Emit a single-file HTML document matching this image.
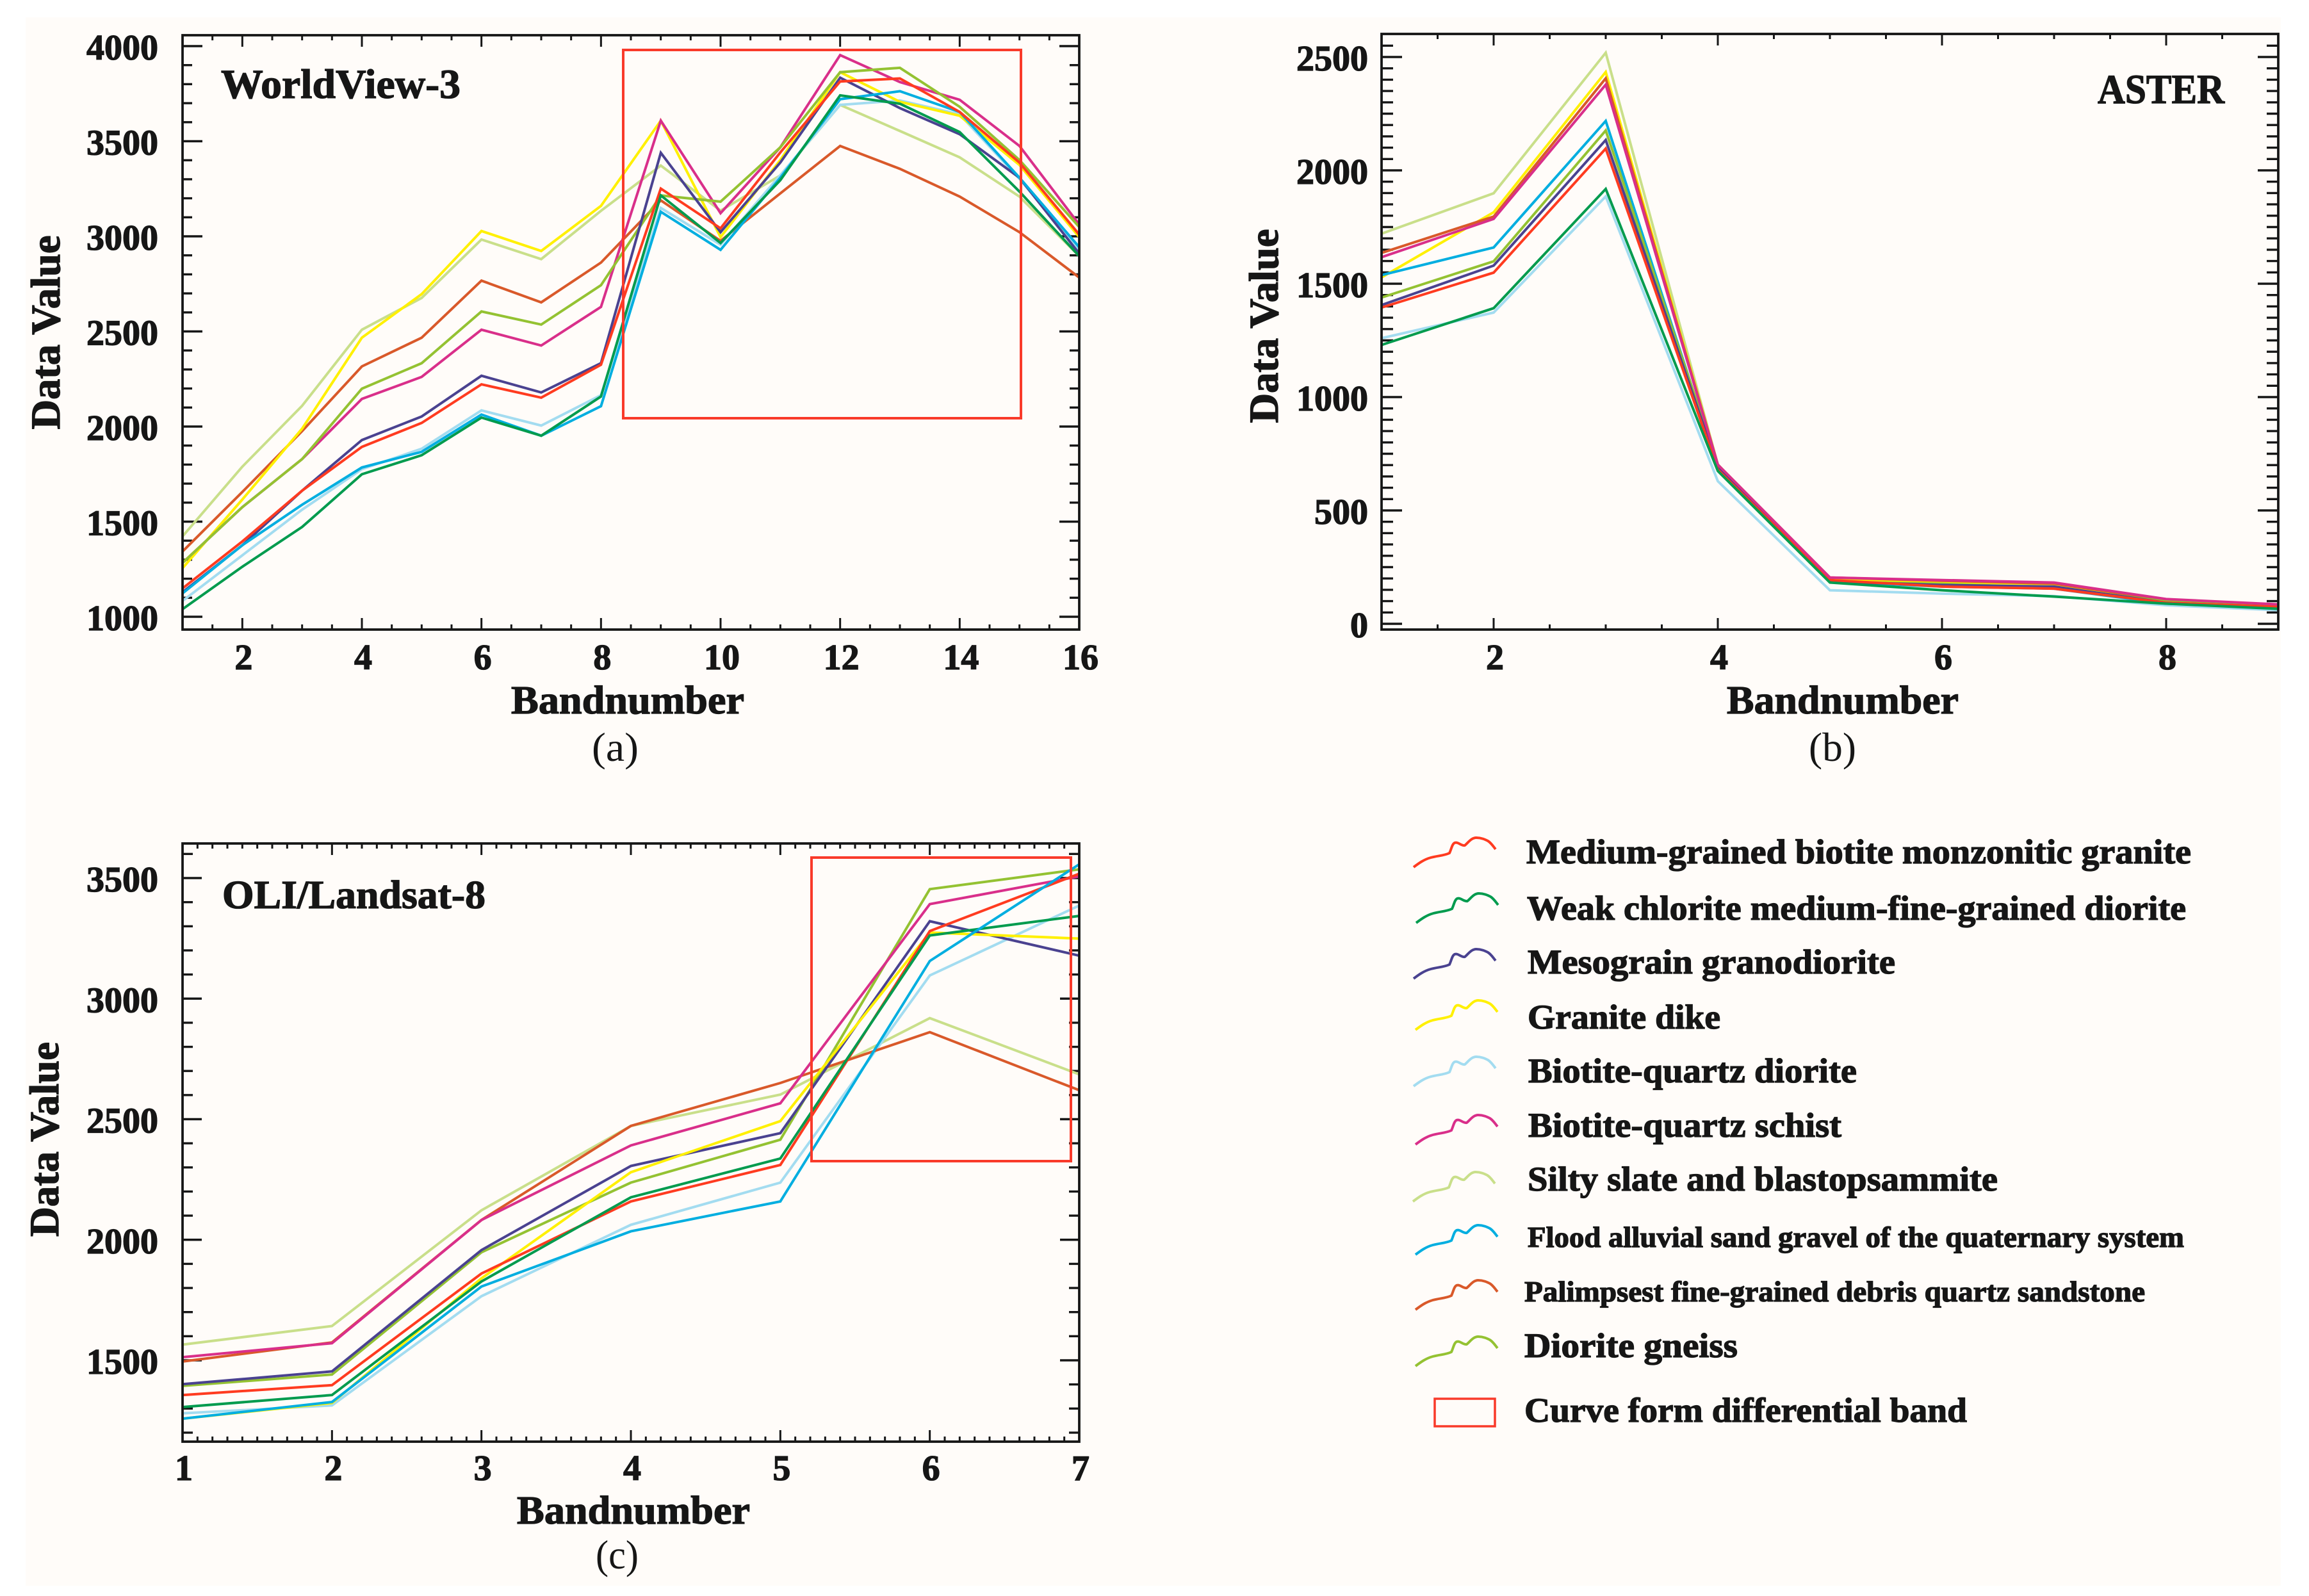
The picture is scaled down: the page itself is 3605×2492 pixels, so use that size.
<!DOCTYPE html>
<html lang="en">
<head>
<meta charset="utf-8">
<title>Spectral curves of lithologies: WorldView-3, ASTER and OLI/Landsat-8</title>
<style>
html,body{margin:0;padding:0;background:#fff;}
svg{display:block;}
text{font-family:"Liberation Serif","DejaVu Serif",serif;fill:#161616;}
.b{font-weight:700;stroke:#161616;stroke-width:1.3px;}
</style>
</head>
<body>
<svg id="fig" xmlns="http://www.w3.org/2000/svg" width="3605" height="2492" viewBox="0 0 3605 2492">
  <rect x="40" y="27" width="3521" height="2449" fill="#fffcf9"/>

  <g id="panel-a"></g>
  <g id="panel-b"></g>
  <g id="panel-c"></g>

  <text class="b" x="345" y="153" font-size="65" textLength="374" lengthAdjust="spacingAndGlyphs">WorldView-3</text>
  <text class="b" x="3275" y="161" font-size="65" textLength="198" lengthAdjust="spacingAndGlyphs">ASTER</text>
  <text class="b" x="347" y="1418" font-size="62" textLength="411" lengthAdjust="spacingAndGlyphs">OLI/Landsat-8</text>

  <text class="b" transform="translate(93,519) rotate(-90)" text-anchor="middle" font-size="65" textLength="303" lengthAdjust="spacingAndGlyphs">Data Value</text>
  <text class="b" transform="translate(1995,509) rotate(-90)" text-anchor="middle" font-size="65" textLength="303" lengthAdjust="spacingAndGlyphs">Data Value</text>
  <text class="b" transform="translate(91,1779) rotate(-90)" text-anchor="middle" font-size="65" textLength="304" lengthAdjust="spacingAndGlyphs">Data Value</text>

  <text class="b" x="798" y="1114" font-size="62" textLength="364" lengthAdjust="spacingAndGlyphs">Bandnumber</text>
  <text class="b" x="2696" y="1114" font-size="62" textLength="362" lengthAdjust="spacingAndGlyphs">Bandnumber</text>
  <text class="b" x="807" y="2379" font-size="62" textLength="364" lengthAdjust="spacingAndGlyphs">Bandnumber</text>

  <text x="924" y="1188" font-size="64" textLength="73" lengthAdjust="spacingAndGlyphs">(a)</text>
  <text x="2824" y="1188" font-size="64" textLength="74" lengthAdjust="spacingAndGlyphs">(b)</text>
  <text x="930" y="2449" font-size="64" textLength="67" lengthAdjust="spacingAndGlyphs">(c)</text>

  <g id="legend">
    <text class="b" x="2383" y="1348" font-size="54" textLength="1038" lengthAdjust="spacingAndGlyphs">Medium-grained biotite monzonitic granite</text>
    <text class="b" x="2384" y="1436" font-size="54" textLength="1029" lengthAdjust="spacingAndGlyphs">Weak chlorite medium-fine-grained diorite</text>
    <text class="b" x="2385" y="1520" font-size="54" textLength="574" lengthAdjust="spacingAndGlyphs">Mesograin granodiorite</text>
    <text class="b" x="2385" y="1606" font-size="54" textLength="301" lengthAdjust="spacingAndGlyphs">Granite dike</text>
    <text class="b" x="2386" y="1690" font-size="54" textLength="513" lengthAdjust="spacingAndGlyphs">Biotite-quartz diorite</text>
    <text class="b" x="2386" y="1775" font-size="54" textLength="489" lengthAdjust="spacingAndGlyphs">Biotite-quartz schist</text>
    <text class="b" x="2385" y="1859" font-size="54" textLength="734" lengthAdjust="spacingAndGlyphs">Silty slate and blastopsammite</text>
    <text class="b" x="2385" y="1947" font-size="46" textLength="1025" lengthAdjust="spacingAndGlyphs">Flood alluvial sand gravel of the quaternary system</text>
    <text class="b" x="2380" y="2032" font-size="46" textLength="969" lengthAdjust="spacingAndGlyphs">Palimpsest fine-grained debris quartz sandstone</text>
    <text class="b" x="2380" y="2119" font-size="54" textLength="333" lengthAdjust="spacingAndGlyphs">Diorite gneiss</text>
    <rect x="2240" y="2184" width="94" height="43" fill="none" stroke="#f93a2a" stroke-width="3.5"/>
    <text class="b" x="2380" y="2220" font-size="54" textLength="691" lengthAdjust="spacingAndGlyphs">Curve form differential band</text>
  </g>
</svg>

<script>
// ---- colours, one per lithology ----
const colorGranite = '#ff3b20';
const colorChlorite = '#009b4e';
const colorMesograin = '#4a4290';
const colorDike = '#fff000';
const colorBioDiorite = '#a3dcf0';
const colorSchist = '#d92f8a';
const colorSlate = '#c9df8a';
const colorFlood = '#00aee0';
const colorPalimpsest = '#d9592a';
const colorGneiss = '#94c232';

// ---- WorldView-3 data (bands 1-16) ----
const wvBands = [1,2,3,4,5,6,7,8,9,10,11,12,13,14,15,16];
const wvSlate = [1423,1789,2109,2509,2676,2983,2880,3134,3372,3135,3320,3691,3554,3415,3209,2896];
const wvPalimpsest = [1343,1656,1976,2316,2467,2767,2653,2862,3189,2976,3226,3475,3355,3209,3022,2783];
const wvBioDiorite = [1083,1323,1563,1776,1883,2085,2005,2165,3149,2956,3322,3691,3714,3641,3302,2929];
const wvDike = [1256,1616,1989,2467,2696,3028,2923,3160,3608,2996,3401,3863,3707,3634,3375,2996];
const wvSchist = [1283,1576,1829,2145,2261,2509,2426,2629,3608,3122,3468,3953,3811,3718,3475,3062];
const wvGneiss = [1283,1576,1829,2199,2333,2605,2536,2743,3215,3182,3468,3863,3886,3681,3401,3049];
const wvMesograin = [1129,1376,1663,1929,2053,2267,2179,2333,3439,3022,3388,3834,3674,3537,3308,2909];
const wvFlood = [1123,1376,1589,1785,1867,2063,1952,2107,3129,2929,3308,3721,3763,3654,3308,2943];
const wvGranite = [1149,1396,1663,1893,2019,2222,2152,2325,3251,3042,3441,3814,3830,3654,3388,3009];
const wvChlorite = [1040,1263,1472,1749,1849,2047,1952,2158,3215,2965,3295,3741,3697,3548,3235,2896];
const wvXTickLabels = ['2','4','6','8','10','12','14','16'];
const wvYTickLabels = ['1000','1500','2000','2500','3000','3500','4000'];

// ---- ASTER data (bands 1-9) ----
const asBands = [1,2,3,4,5,6,7,8,9];
const asSlate = [1721,1899,2519,702,193,182,175,100,75];
const asPalimpsest = [1636,1796,2406,702,204,190,177,105,82];
const asBioDiorite = [1260,1373,1885,629,148,133,122,82,60];
const asDike = [1528,1815,2434,702,199,185,175,100,75];
const asSchist = [1617,1786,2378,702,204,193,182,109,86];
const asGneiss = [1439,1599,2176,702,186,176,160,98,75];
const asMesograin = [1406,1580,2134,691,186,171,164,93,75];
const asFlood = [1538,1660,2218,691,186,164,155,89,75];
const asGranite = [1395,1549,2096,680,193,164,155,93,75];
const asChlorite = [1230,1392,1918,674,182,148,120,89,66];
const asXTickLabels = ['2','4','6','8'];
const asYTickLabels = ['0','500','1000','1500','2000','2500'];

// ---- OLI/Landsat-8 data (bands 1-7) ----
const olBands = [1,2,3,4,5,6,7];
const olSlate = [1565,1642,2122,2472,2602,2919,2686];
const olPalimpsest = [1495,1574,2082,2472,2650,2861,2620];
const olBioDiorite = [1280,1313,1766,2062,2237,3096,3386];
const olDike = [1258,1323,1840,2280,2492,3274,3249];
const olSchist = [1513,1571,2082,2391,2566,3392,3507];
const olGneiss = [1394,1441,1948,2237,2415,3454,3536];
const olMesograin = [1401,1454,1957,2306,2442,3321,3178];
const olGranite = [1356,1397,1860,2159,2310,3280,3518];
const olChlorite = [1306,1356,1827,2176,2337,3262,3343];
const olFlood = [1258,1327,1806,2035,2159,3156,3557];
const olXTickLabels = ['1','2','3','4','5','6','7'];
const olYTickLabels = ['1500','2000','2500','3000','3500'];

const SVGNS = 'http://www.w3.org/2000/svg';

function makeScale(d0, d1, r0, r1) {
  return function (v) { return r0 + (v - d0) * (r1 - r0) / (d1 - d0); };
}

function addLine(parent, x1, y1, x2, y2, w, color) {
  const l = document.createElementNS(SVGNS, 'line');
  l.setAttribute('x1', x1);
  l.setAttribute('y1', y1);
  l.setAttribute('x2', x2);
  l.setAttribute('y2', y2);
  l.setAttribute('stroke', color);
  l.setAttribute('stroke-width', w);
  parent.appendChild(l);
  return l;
}

function addLabel(parent, x, y, str, anchor) {
  const t = document.createElementNS(SVGNS, 'text');
  t.setAttribute('class', 'b');
  t.setAttribute('x', x);
  t.setAttribute('y', y);
  t.setAttribute('font-size', 56);
  t.setAttribute('text-anchor', anchor);
  t.textContent = str;
  parent.appendChild(t);
  return t;
}

function drawPanel(rootId, cfg) {
  const root = document.getElementById(rootId);
  const x = makeScale(cfg.xMin, cfg.xMax, cfg.left, cfg.right);
  const y = makeScale(cfg.yA, cfg.yB, cfg.yAPx, cfg.yBPx);

  // minor and major ticks, mirrored on all four sides
  const ticks = document.createElementNS(SVGNS, 'g');
  
  
  root.appendChild(ticks);
  for (let i = 0; ; i++) {
    const v = cfg.yMinorStart + i * cfg.yMinor;
    const py = y(v);
    if (py < cfg.top + 4) break;
    if (py > cfg.bottom - 4) continue;
    const major = Math.round(v / cfg.yMinor) % Math.round(500 / cfg.yMinor) === 0;
    const len = major ? cfg.yMajorLen : cfg.yMinorLen;
    addLine(ticks, cfg.left, py, cfg.left + len, py, 3.4, '#161616');
    addLine(ticks, cfg.right, py, cfg.right - len, py, 3.4, '#161616');
  }
  const xMinorCount = Math.round((cfg.xMax - cfg.xMin) / cfg.xMinor);
  for (let i = 1; i < xMinorCount; i++) {
    const v = cfg.xMin + i * cfg.xMinor;
    const major = Math.abs(v / cfg.xMajor - Math.round(v / cfg.xMajor)) < 1e-6;
    const len = major ? 18 : 8;
    addLine(ticks, x(v), cfg.bottom, x(v), cfg.bottom - len, 3, '#161616');
    addLine(ticks, x(v), cfg.top, x(v), cfg.top + len, 3, '#161616');
  }

  // series
  cfg.series.forEach(function (s) {
    const p = document.createElementNS(SVGNS, 'polyline');
    p.setAttribute('points', s.values.map(function (v, i) {
      return x(cfg.bands[i]).toFixed(1) + ',' + y(v).toFixed(1);
    }).join(' '));
    p.setAttribute('fill', 'none');
    p.setAttribute('stroke', s.color);
    p.setAttribute('stroke-width', 4);
    p.setAttribute('stroke-linejoin', 'miter');
    
    
    root.appendChild(p);
  });

  // differential band box
  if (cfg.box) {
    const r = document.createElementNS(SVGNS, 'rect');
    r.setAttribute('x', cfg.box.x);
    r.setAttribute('y', cfg.box.y);
    r.setAttribute('width', cfg.box.w);
    r.setAttribute('height', cfg.box.h);
    r.setAttribute('fill', 'none');
    r.setAttribute('stroke', '#f93a2a');
    r.setAttribute('stroke-width', 4);
    
    
    root.appendChild(r);
  }

  // frame
  const f = document.createElementNS(SVGNS, 'rect');
  f.setAttribute('x', cfg.left);
  f.setAttribute('y', cfg.top);
  f.setAttribute('width', cfg.right - cfg.left);
  f.setAttribute('height', cfg.bottom - cfg.top);
  f.setAttribute('fill', 'none');
  f.setAttribute('stroke', '#161616');
  f.setAttribute('stroke-width', 3.8);
  
  
  root.appendChild(f);

  // tick labels
  cfg.yLabels.forEach(function (str) {
    const t = addLabel(root, cfg.left - cfg.labelGap, y(Number(str)) + 21, str, 'end');
    
    
  });
  cfg.xLabels.forEach(function (str) {
    const t = addLabel(root, x(Number(str)) + 2, cfg.xLabelY, str, 'middle');
    
    
  });
}

drawPanel('panel-a', {
  left: 285, right: 1685, top: 55, bottom: 983,
  xMin: 1, xMax: 16, xMinor: 0.5, xMajor: 2,
  yA: 1000, yB: 4000, yAPx: 963, yBPx: 72,
  yMinor: 100, yMinorStart: 1000, yMajorLen: 31, yMinorLen: 15,
  xLabelY: 1045, labelGap: 38,
  bands: wvBands, xLabels: wvXTickLabels, yLabels: wvYTickLabels,
  box: { x: 973, y: 78, w: 621, h: 575 },
  series: [
    { name: 'silty-slate-line', color: colorSlate, values: wvSlate },
    { name: 'palimpsest-sandstone-line', color: colorPalimpsest, values: wvPalimpsest },
    { name: 'biotite-quartz-diorite-line', color: colorBioDiorite, values: wvBioDiorite },
    { name: 'granite-dike-line', color: colorDike, values: wvDike },
    { name: 'biotite-quartz-schist-line', color: colorSchist, values: wvSchist },
    { name: 'diorite-gneiss-line', color: colorGneiss, values: wvGneiss },
    { name: 'mesograin-granodiorite-line', color: colorMesograin, values: wvMesograin },
    { name: 'flood-alluvial-line', color: colorFlood, values: wvFlood },
    { name: 'medium-grained-granite-line', color: colorGranite, values: wvGranite },
    { name: 'weak-chlorite-diorite-line', color: colorChlorite, values: wvChlorite }
  ]
});

drawPanel('panel-b', {
  left: 2157, right: 3557, top: 53, bottom: 983,
  xMin: 1, xMax: 9, xMinor: 0.5, xMajor: 2,
  yA: 0, yB: 2500, yAPx: 974, yBPx: 89,
  yMinor: 50, yMinorStart: 0, yMajorLen: 32, yMinorLen: 18,
  xLabelY: 1045, labelGap: 21,
  bands: asBands, xLabels: asXTickLabels, yLabels: asYTickLabels,
  box: null,
  series: [
    { name: 'silty-slate-line', color: colorSlate, values: asSlate },
    { name: 'biotite-quartz-diorite-line', color: colorBioDiorite, values: asBioDiorite },
    { name: 'granite-dike-line', color: colorDike, values: asDike },
    { name: 'palimpsest-sandstone-line', color: colorPalimpsest, values: asPalimpsest },
    { name: 'flood-alluvial-line', color: colorFlood, values: asFlood },
    { name: 'diorite-gneiss-line', color: colorGneiss, values: asGneiss },
    { name: 'mesograin-granodiorite-line', color: colorMesograin, values: asMesograin },
    { name: 'medium-grained-granite-line', color: colorGranite, values: asGranite },
    { name: 'biotite-quartz-schist-line', color: colorSchist, values: asSchist },
    { name: 'weak-chlorite-diorite-line', color: colorChlorite, values: asChlorite }
  ]
});

drawPanel('panel-c', {
  left: 285, right: 1685, top: 1317, bottom: 2251,
  xMin: 1, xMax: 7, xMinor: 0.1, xMajor: 1,
  yA: 1500, yB: 3500, yAPx: 2124, yBPx: 1371,
  yMinor: 100, yMinorStart: 1200, yMajorLen: 30, yMinorLen: 16,
  xLabelY: 2311, labelGap: 38,
  bands: olBands, xLabels: olXTickLabels, yLabels: olYTickLabels,
  box: { x: 1267, y: 1339, w: 405, h: 474 },
  series: [
    { name: 'silty-slate-line', color: colorSlate, values: olSlate },
    { name: 'biotite-quartz-diorite-line', color: colorBioDiorite, values: olBioDiorite },
    { name: 'palimpsest-sandstone-line', color: colorPalimpsest, values: olPalimpsest },
    { name: 'diorite-gneiss-line', color: colorGneiss, values: olGneiss },
    { name: 'biotite-quartz-schist-line', color: colorSchist, values: olSchist },
    { name: 'mesograin-granodiorite-line', color: colorMesograin, values: olMesograin },
    { name: 'granite-dike-line', color: colorDike, values: olDike },
    { name: 'medium-grained-granite-line', color: colorGranite, values: olGranite },
    { name: 'weak-chlorite-diorite-line', color: colorChlorite, values: olChlorite },
    { name: 'flood-alluvial-line', color: colorFlood, values: olFlood }
  ]
});

// ---- legend curve swatches (one decorative squiggle repeated per row) ----
const swatchShape = 'M0 0 C8 -6 16 -12 27 -15 C38 -18 48 -18 56 -22 C59 -28 60 -36 64 -38 C70 -40 74 -33 80 -34 C85 -38 90 -46 98 -46 C106 -46 112 -43 116 -41 C121 -38 124 -33 128 -28';
const legendRows = [
  { name: 'legend-swatch-medium-grained-granite', color: colorGranite, x: 2207, y: 1354 },
  { name: 'legend-swatch-weak-chlorite-diorite', color: colorChlorite, x: 2211, y: 1441 },
  { name: 'legend-swatch-mesograin-granodiorite', color: colorMesograin, x: 2207, y: 1528 },
  { name: 'legend-swatch-granite-dike', color: colorDike, x: 2210, y: 1608 },
  { name: 'legend-swatch-biotite-quartz-diorite', color: colorBioDiorite, x: 2207, y: 1696 },
  { name: 'legend-swatch-biotite-quartz-schist', color: colorSchist, x: 2210, y: 1787 },
  { name: 'legend-swatch-silty-slate', color: colorSlate, x: 2206, y: 1876 },
  { name: 'legend-swatch-flood-alluvial', color: colorFlood, x: 2210, y: 1959 },
  { name: 'legend-swatch-palimpsest-sandstone', color: colorPalimpsest, x: 2210, y: 2045 },
  { name: 'legend-swatch-diorite-gneiss', color: colorGneiss, x: 2210, y: 2133 }
];
const legendGroup = document.getElementById('legend');
legendRows.forEach(function (row) {
  const p = document.createElementNS(SVGNS, 'path');
  p.setAttribute('d', swatchShape);
  p.setAttribute('transform', 'translate(' + row.x + ',' + row.y + ')');
  p.setAttribute('fill', 'none');
  p.setAttribute('stroke', row.color);
  p.setAttribute('stroke-width', 4);
  
  
  legendGroup.appendChild(p);
});
</script>
</body>
</html>
